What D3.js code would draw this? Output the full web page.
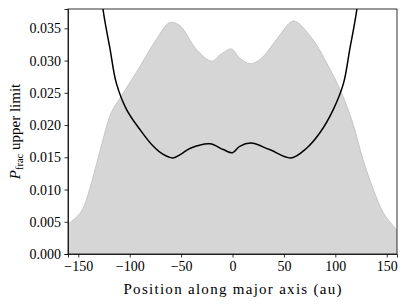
<!DOCTYPE html>
<html>
<head>
<script src="https://d3js.org/d3.v7.min.js"></script>
<style>
  body { margin: 0; background: #fff; }
  .axis path, .axis line { stroke: #000; stroke-width: 0.8; }
</style>
</head>
<body>
<svg id="chart" width="407" height="305"></svg>
<script>
// positions (au) and values
const fillX = [-160, -150, -145, -139, -133, -126, -118, -108, -90, -74, -61, -51, -35, -20, -12, -1, 7, 17, 27, 43, 56, 61, 78, 95, 106, 117, 127, 137, 147, 160];
const fillY = [0.0046, 0.0060, 0.0072, 0.0100, 0.0135, 0.0177, 0.0219, 0.0245, 0.0291, 0.0333, 0.0359, 0.0354, 0.0317, 0.0299, 0.0309, 0.0318, 0.0304, 0.0295, 0.0302, 0.0333, 0.0359, 0.0361, 0.0333, 0.0286, 0.0250, 0.0203, 0.0146, 0.0100, 0.0063, 0.0037];

const limitX = [-131, -126, -119, -113, -103, -90, -77, -67, -58, -50, -41, -22, -9, 0, 7, 18, 36, 57, 72, 85, 98, 108, 114, 121, 126];
const limitY = [0.046, 0.038, 0.0317, 0.0265, 0.0224, 0.0193, 0.0167, 0.0154, 0.0149, 0.0155, 0.0164, 0.0171, 0.0162, 0.0157, 0.0167, 0.0172, 0.0162, 0.0149, 0.0164, 0.0188, 0.0224, 0.0265, 0.0317, 0.038, 0.046];

const xTicks = [-150, -100, -50, 0, 50, 100, 150];
const yTicks = [0, 0.005, 0.010, 0.015, 0.020, 0.025, 0.030, 0.035];

const FONT = "Liberation Serif";

const svg = d3.select("#chart");
const margin = {top: 9, right: 10, bottom: 51, left: 68};
const w = 407 - margin.left - margin.right;
const h = 305 - margin.top - margin.bottom;

const x = d3.scaleLinear().domain([-160, 160]).range([0, w]);
const y = d3.scaleLinear().domain([0, 0.038]).range([h, 0]);

const g = svg.append("g").attr("transform", `translate(${margin.left},${margin.top})`);

g.append("clipPath").attr("id", "clip")
  .append("rect").attr("width", w).attr("height", h);

const fillData = fillX.map((d, i) => ({x: d, y: fillY[i]}));
const limitData = limitX.map((d, i) => ({x: d, y: limitY[i]}));

const area = d3.area()
  .x(d => x(d.x)).y0(y(0)).y1(d => y(d.y))
  .curve(d3.curveCatmullRom);
const topLine = d3.line()
  .x(d => x(d.x)).y(d => y(d.y))
  .curve(d3.curveCatmullRom);

const plot = g.append("g").attr("clip-path", "url(#clip)");
plot.append("path").datum(fillData)
  .attr("d", area).attr("fill", "#d6d6d6");
plot.append("path").datum(fillData)
  .attr("d", topLine).attr("fill", "none")
  .attr("stroke", "#c6c6c6").attr("stroke-width", 1);
plot.append("path").datum(limitData)
  .attr("d", topLine).attr("fill", "none")
  .attr("stroke", "#000").attr("stroke-width", 1.5);

const fmtY = d3.format(".3f");
const minus = s => String(s).replace("-", "\u2212");

g.append("g").attr("class", "axis")
  .attr("transform", `translate(0,${h})`)
  .call(d3.axisBottom(x).tickValues(xTicks).tickSizeOuter(0).tickSize(3.5).tickPadding(4).tickFormat(d => minus(d)))
  .call(a => a.attr("font-family", FONT).attr("font-size", 14))
  .call(a => a.selectAll("text").attr("font-family", FONT).attr("font-size", 14));

g.append("g").attr("class", "axis")
  .call(d3.axisLeft(y).tickValues(yTicks).tickSizeOuter(0).tickSize(3.5).tickPadding(3.5).tickFormat(fmtY))
  .call(a => a.attr("font-family", FONT).attr("font-size", 14))
  .call(a => a.selectAll("text").attr("font-family", FONT).attr("font-size", 14));

// frame
g.append("rect").attr("width", w).attr("height", h)
  .attr("fill", "none").attr("stroke", "#000").attr("stroke-width", 0.8);

svg.append("text")
  .attr("x", margin.left + w / 2).attr("y", 294)
  .attr("text-anchor", "middle")
  .attr("font-family", FONT).attr("font-size", 15)
  .attr("textLength", 218).attr("lengthAdjust", "spacing")
  .text("Position along major axis (au)");

const yl = svg.append("text")
  .attr("transform", `translate(20,${margin.top + h / 2}) rotate(-90)`)
  .attr("text-anchor", "middle")
  .attr("font-family", FONT).attr("font-size", 15);
yl.append("tspan").attr("font-style", "italic").text("P");
yl.append("tspan").attr("font-size", 10.5).attr("dy", 3).text("frac");
yl.append("tspan").attr("dy", -3).text(" upper limit");
</script>
</body>
</html>
